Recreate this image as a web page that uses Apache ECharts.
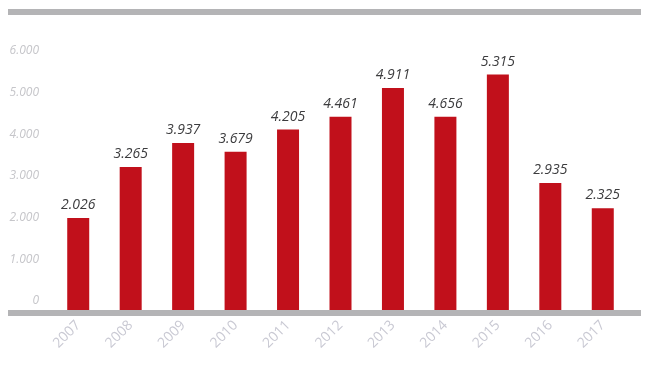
<!DOCTYPE html>
<html>
<head>
<meta charset="utf-8">
<script src="https://cdn.jsdelivr.net/npm/echarts@6/dist/echarts.min.js"></script>
<style>
  html, body { margin: 0; padding: 0; background: #fff; }
  #chart { width: 657px; height: 368px; }
</style>
</head>
<body>
<div id="chart"></div>
<script>
var years = ['2007', '2008', '2009', '2010', '2011', '2012', '2013', '2014', '2015', '2016', '2017'];
// bar heights as drawn against the axis
var barValues = [2210, 3430, 4010, 3800, 4330, 4640, 5330, 4640, 5650, 3050, 2440];
// the value labels printed over the bars
var valueLabels = ['2.026', '3.265', '3.937', '3.679', '4.205', '4.461', '4.911', '4.656', '5.315', '2.935', '2.325'];
var yTicks = [0, 1000, 2000, 3000, 4000, 5000, 6000];

var fmt = function (v) {
  var s = v === 0 ? '0' : (v / 1000).toFixed(3);
  // second empty line lifts the label above its tick
  return '{t|' + s + '}\n{gap|}';
};

var myChart = echarts.init(document.getElementById('chart'));
var option = {
  animation: false,
  textStyle: { fontFamily: 'Open Sans' },
  grid: {
    top: 60,
    left: 52,
    right: 28,
    bottom: 58
  },
  graphic: [
    { type: 'rect', shape: { x: 8, y: 9, width: 633, height: 6 }, style: { fill: '#b4b4b6' } },
    { type: 'rect', shape: { x: 8, y: 310, width: 633, height: 6 }, style: { fill: '#b4b4b6' }, z: 1 }
  ],
  xAxis: {
    type: 'category',
    data: years,
    axisLine: { show: false },
    axisTick: { show: false },
    axisLabel: {
      rotate: 45,
      margin: 13,
      color: '#c9c9d3',
      fontSize: 14
    }
  },
  yAxis: {
    type: 'value',
    min: yTicks[0],
    max: yTicks[yTicks.length - 1],
    interval: 1000,
    splitLine: { show: false },
    axisLine: { show: false },
    axisTick: { show: false },
    axisLabel: {
      margin: 13,
      verticalAlign: 'middle',
      formatter: fmt,
      rich: {
        t: {
          color: '#c6c6ca',
          fontSize: 12,
          fontStyle: 'italic',
          fontFamily: 'Open Sans',
          lineHeight: 18,
          align: 'right'
        },
        gap: { height: 18, lineHeight: 18 }
      }
    }
  },
  series: {
    type: 'bar',
    data: barValues,
    barWidth: 22,
    z: 3,
    itemStyle: { color: '#c1101b' },
    label: {
      show: true,
      position: 'top',
      distance: 6,
      color: '#3c3c3e',
      fontSize: 14,
      fontStyle: 'italic',
      formatter: function (params) {
        return valueLabels[params.dataIndex];
      }
    }
  }
};
myChart.setOption(option);
window.addEventListener('resize', function () {
  myChart.resize();
});
</script>
</body>
</html>
